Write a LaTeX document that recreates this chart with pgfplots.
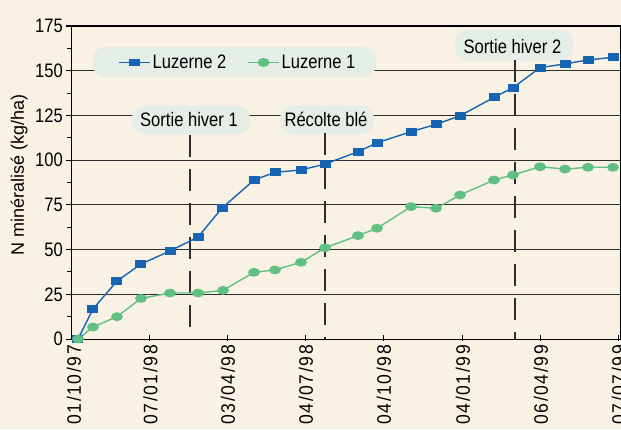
\documentclass[border=0pt]{standalone}
\usepackage{pgfplots}
\pgfplotsset{compat=1.18}
\usepackage{pgfplotstable}
\usepackage{fontspec}
\setmainfont{Liberation Sans}[FakeStretch=0.85]
\newfontfamily\ylfont{Liberation Sans}
\newfontfamily\xlfont{Liberation Sans}[FakeStretch=0.9,LetterSpace=8]
\definecolor{bgc}{RGB}{249,241,228}
\definecolor{blobc}{RGB}{228,238,230}
\definecolor{cblue}{RGB}{22,100,178}
\definecolor{cgreen}{RGB}{96,192,130}
\definecolor{gridc}{RGB}{45,45,45}
\newcommand{\lblsize}{\fontsize{19.5}{22}\selectfont}

% x = position along the time axis (tick 01/10/97 at 73, 07/07/99 at 618)
\pgfplotstableread{
x y
78 0
93 16.8
117 32.4
141 41.9
170 49.2
198 57.0
222 73.2
254 88.9
275 93.2
301 94.5
325 97.8
358 104.7
377 109.7
411 115.9
436 120.0
460 124.8
494 135.1
513 140.5
540 151.7
565 153.8
588 156.0
613 157.5
}\luzB

\pgfplotstableread{
x y
78 0
93 6.7
117 12.5
141 22.7
170 25.7
198 25.7
223 27.2
254 37.3
275 38.6
301 42.9
325 51.0
358 57.8
377 61.9
411 74.0
436 73.1
460 80.5
494 88.9
513 91.7
540 96.3
565 95.0
588 96.0
613 96.0
}\luzA

\begin{document}
\begin{tikzpicture}
\fill[bgc] (-72pt,-90pt) rectangle (549pt,339pt);
\begin{axis}[
  at={(0pt,0pt)}, anchor=south west,
  scale only axis, width=548pt, height=313pt,
  xmin=72, xmax=620, ymin=0, ymax=175,
  clip=false,
  axis line style={black,line width=1pt},
  xtick={73,149.5,227,305,383,462,540,618},
  xticklabels={01/10/97,07/01/98,03/04/98,04/07/98,04/10/98,04/01/99,06/04/99,07/07/99},
  xtick pos=bottom, ytick pos=left,
  ytick={0,25,...,175}, minor y tick num=1,
  tick align=outside,
  major tick length=6pt, minor tick length=4.5pt,
  tick style={black, line width=1pt},
  x tick style={yshift=4.5pt},
  ymajorgrids, grid style={gridc, line width=0.9pt},
  /pgf/number format/assume math mode=true,
  yticklabel style={font=\lblsize, anchor=east, inner sep=0pt, xshift=-3pt},
  xticklabel style={font=\xlfont\fontsize{19.5}{22}\selectfont, rotate=90, anchor=east, inner sep=0pt, yshift=-1pt},
  ylabel={N minéralisé (kg/ha)},
  ylabel style={font=\ylfont\fontsize{18}{20}\selectfont, at={(axis description cs:-0.0967,0.524)}, anchor=center},
  legend columns=2,
  legend style={at={(axis cs:115,154.6)}, anchor=west, draw=none, fill=none, font=\lblsize,
     /tikz/every even column/.append style={column sep=19pt}},
  legend image code/.code={\draw[#1] (0pt,0pt) -- (31pt,0pt); \draw[#1] plot coordinates {(15.5pt,0pt)};},
]
% label backgrounds
\fill[blobc, rounded corners=12pt] (axis cs:93,146.5) rectangle (axis cs:376,163.3);
\fill[blobc, rounded corners=12pt] (axis cs:132,114.6) rectangle (axis cs:250,130.3);
\fill[blobc, rounded corners=12pt] (axis cs:280,114.6) rectangle (axis cs:374,130.3);
\fill[blobc, rounded corners=12pt] (axis cs:455,155.4) rectangle (axis cs:573,172.8);
% event lines
\draw[gridc, line width=1.2pt, dash pattern=on 22pt off 12pt] (axis cs:190,114) -- (axis cs:190,0);
\draw[gridc, line width=1.2pt, dash pattern=on 22pt off 12pt] (axis cs:325,115) -- (axis cs:325,0);
\draw[gridc, line width=1.2pt, dash pattern=on 22pt off 12pt] (axis cs:515,156) -- (axis cs:515,0);
\node[font=\lblsize, anchor=base, inner sep=0pt] at (axis cs:189,118.7) {Sortie hiver 1};
\node[font=\lblsize, anchor=base, inner sep=0pt] at (axis cs:326,118.7) {Récolte blé};
\node[font=\lblsize, anchor=base, inner sep=0pt] at (axis cs:512.5,159.7) {Sortie hiver 2};

\addplot[cblue, line width=1.4pt, mark=square*, mark size=3.2pt, mark options={xscale=1.5}] table[x=x,y=y] {\luzB};
\addlegendentry{Luzerne 2}
\addplot[cgreen, line width=1.4pt, mark=*, mark size=3.7pt, mark options={xscale=1.4}] table[x=x,y=y] {\luzA};
\addlegendentry{Luzerne 1}
\end{axis}
\pgfresetboundingbox
\useasboundingbox (-72pt,-90pt) rectangle (549pt,339pt);
\end{tikzpicture}
\end{document}
